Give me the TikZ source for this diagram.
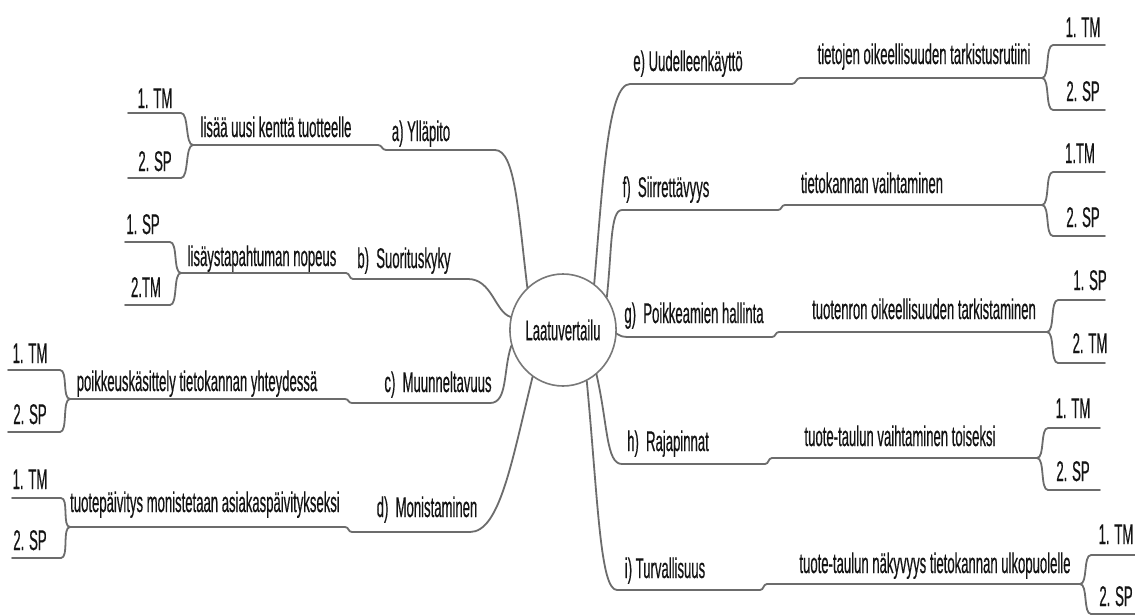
\documentclass[tikz,border=0pt]{standalone}
\usepackage{fontspec}
\setmainfont{Liberation Sans}[FakeStretch=0.46,FakeBold=0.4]
\usetikzlibrary{shapes.geometric}
\definecolor{linec}{RGB}{108,108,108}
\definecolor{hubc}{RGB}{120,120,120}
\definecolor{txtc}{RGB}{20,20,20}
\newcommand\mmfont{\fontsize{28.5}{30}\selectfont}

\begin{document}
\begin{tikzpicture}[x=1pt,y=-1pt,
  conn/.style={draw=linec, line width=1.8pt, line cap=round, line join=round},
  lbl/.style={font=\mmfont, text=txtc, inner sep=0pt, anchor=base},
  hub/.style={ellipse, draw=hubc, line width=1.6pt, fill=white,
    minimum width=100pt, minimum height=112pt, inner sep=0pt, font=\mmfont, text=txtc}]
\useasboundingbox (0,0) rectangle (1135,614);
\fill[white] (0,0) rectangle (1135,614);

% central topic
\node[hub] (hub) at (563,330) {Laatuvertailu};

% ---------- left side ----------
% a) Ylläpito
\coordinate (a1) at (495,150); \coordinate (a2) at (386,150);
\coordinate (a3) at (378,145); \coordinate (a4) at (193,145);
\coordinate (a5) at (181,113); \coordinate (a6) at (128,113);
\coordinate (a7) at (181,178); \coordinate (a8) at (128,178);
\draw[conn] (hub.130) .. controls (518,210) and (515,150) .. (a1) -- (a2)
  .. controls +(-4,0) and +(4,0) .. (a3) -- (a4);
\draw[conn] (a6) -- (a5) .. controls +(8,0) and +(-8,0) .. (a4)
  .. controls +(-8,0) and +(8,0) .. (a7) -- (a8);
\node[lbl] (a-l1) at (155,108) {1. TM};
\node[lbl] (a-l2) at (155,171) {2. SP};
\node[lbl] (a-sub) at (276,137) {lisää uusi kenttä tuotteelle};
\node[lbl] (a-main) at (421,141) {a) Ylläpito};

% b) Suorituskyky
\coordinate (b1) at (468,279); \coordinate (b2) at (353,279);
\coordinate (b3) at (346,273); \coordinate (b4) at (181,273);
\coordinate (b5) at (170,242); \coordinate (b6) at (125,242);
\coordinate (b7) at (170,305); \coordinate (b8) at (125,305);
\draw[conn] (hub.166) .. controls (495,312) and (492,279) .. (b1) -- (b2)
  .. controls +(-4,0) and +(4,0) .. (b3) -- (b4);
\draw[conn] (b6) -- (b5) .. controls +(8,0) and +(-8,0) .. (b4)
  .. controls +(-8,0) and +(8,0) .. (b7) -- (b8);
\node[lbl] (b-l1) at (143,234) {1. SP};
\node[lbl] (b-l2) at (146,297) {2.TM};
\node[lbl] (b-sub) at (262,266) {lisäystapahtuman nopeus};
\node[lbl] (b-main) at (404,268) {b)\ \ Suorituskyky};

% c) Muunneltavuus
\coordinate (c1) at (490,403); \coordinate (c2) at (352,403);
\coordinate (c3) at (345,399); \coordinate (c4) at (70,399);
\coordinate (c5) at (60,370); \coordinate (c6) at (8,370);
\coordinate (c7) at (60,432); \coordinate (c8) at (8,432);
\draw[conn] (hub.197) .. controls (503,370) and (508,403) .. (c1) -- (c2)
  .. controls +(-4,0) and +(4,0) .. (c3) -- (c4);
\draw[conn] (c6) -- (c5) .. controls +(8,0) and +(-8,0) .. (c4)
  .. controls +(-8,0) and +(8,0) .. (c7) -- (c8);
\node[lbl] (c-l1) at (30,363) {1. TM};
\node[lbl] (c-l2) at (30,424) {2. SP};
\node[lbl] (c-sub) at (197,391) {poikkeuskäsittely tietokannan yhteydessä};
\node[lbl] (c-main) at (438,392) {c)\ \ Muunneltavuus};

% d) Monistaminen
\coordinate (d1) at (470,532); \coordinate (d2) at (352,532);
\coordinate (d3) at (345,527); \coordinate (d4) at (70,527);
\coordinate (d5) at (61,498); \coordinate (d6) at (12,498);
\coordinate (d7) at (61,558); \coordinate (d8) at (12,558);
\draw[conn] (hub.237) .. controls (512,460) and (500,532) .. (d1) -- (d2)
  .. controls +(-4,0) and +(4,0) .. (d3) -- (d4);
\draw[conn] (d6) -- (d5) .. controls +(8,0) and +(-8,0) .. (d4)
  .. controls +(-8,0) and +(8,0) .. (d7) -- (d8);
\node[lbl] (d-l1) at (30,489) {1. TM};
\node[lbl] (d-l2) at (30,550) {2. SP};
\node[lbl] (d-sub) at (205,512) {tuotepäivitys monistetaan asiakaspäivitykseksi};
\node[lbl] (d-main) at (427,517) {d)\ \ Monistaminen};

% ---------- right side ----------
% e) Uudelleenkäyttö
\coordinate (e1) at (630,84); \coordinate (e2) at (792,84);
\coordinate (e3) at (800,78); \coordinate (e4) at (1042,78);
\coordinate (e5) at (1053,45); \coordinate (e6) at (1105,45);
\coordinate (e7) at (1053,110); \coordinate (e8) at (1105,110);
\draw[conn] (hub.56) .. controls (603,180) and (608,84) .. (e1) -- (e2)
  .. controls +(4,0) and +(-4,0) .. (e3) -- (e4);
\draw[conn] (e6) -- (e5) .. controls +(-8,0) and +(8,0) .. (e4)
  .. controls +(8,0) and +(-8,0) .. (e7) -- (e8);
\node[lbl] (e-main) at (688,71) {e) Uudelleenkäyttö};
\node[lbl] (e-sub) at (924,64) {tietojen oikeellisuuden tarkistusrutiini};
\node[lbl] (e-l1) at (1083,37) {1. TM};
\node[lbl] (e-l2) at (1083,101) {2. SP};

% f) Siirrettävyys
\coordinate (f1) at (622,210); \coordinate (f2) at (778,210);
\coordinate (f3) at (785,205); \coordinate (f4) at (1042,205);
\coordinate (f5) at (1053,172); \coordinate (f6) at (1105,172);
\coordinate (f7) at (1053,236); \coordinate (f8) at (1105,236);
\draw[conn] (hub.37) .. controls (612,250) and (610,210) .. (f1) -- (f2)
  .. controls +(4,0) and +(-4,0) .. (f3) -- (f4);
\draw[conn] (f6) -- (f5) .. controls +(-8,0) and +(8,0) .. (f4)
  .. controls +(8,0) and +(-8,0) .. (f7) -- (f8);
\node[lbl] (f-main) at (666,197) {f)\ \ Siirrettävyys};
\node[lbl] (f-sub) at (872,193) {tietokannan vaihtaminen};
\node[lbl] (f-l1) at (1080,163) {1.TM};
\node[lbl] (f-l2) at (1083,227) {2. SP};

% g) Poikkeamien hallinta
\coordinate (g1) at (630,337); \coordinate (g2) at (772,337);
\coordinate (g3) at (779,332); \coordinate (g4) at (1047,332);
\coordinate (g5) at (1058,300); \coordinate (g6) at (1105,300);
\coordinate (g7) at (1058,363); \coordinate (g8) at (1105,363);
\draw[conn] (hub.356) .. controls (620,336) and (622,337) .. (g1) -- (g2)
  .. controls +(4,0) and +(-4,0) .. (g3) -- (g4);
\draw[conn] (g6) -- (g5) .. controls +(-8,0) and +(8,0) .. (g4)
  .. controls +(8,0) and +(-8,0) .. (g7) -- (g8);
\node[lbl] (g-main) at (694,323) {g)\ \ Poikkeamien hallinta};
\node[lbl] (g-sub) at (924,319) {tuotenron oikeellisuuden tarkistaminen};
\node[lbl] (g-l1) at (1090,290) {1. SP};
\node[lbl] (g-l2) at (1090,353) {2. TM};

% h) Rajapinnat
\coordinate (h1) at (622,464); \coordinate (h2) at (765,464);
\coordinate (h3) at (772,458); \coordinate (h4) at (1037,458);
\coordinate (h5) at (1048,428); \coordinate (h6) at (1100,428);
\coordinate (h7) at (1048,490); \coordinate (h8) at (1100,490);
\draw[conn] (hub.307) .. controls (608,425) and (606,464) .. (h1) -- (h2)
  .. controls +(4,0) and +(-4,0) .. (h3) -- (h4);
\draw[conn] (h6) -- (h5) .. controls +(-8,0) and +(8,0) .. (h4)
  .. controls +(8,0) and +(-8,0) .. (h7) -- (h8);
\node[lbl] (h-main) at (668,451) {h)\ \ Rajapinnat};
\node[lbl] (h-sub) at (900,446) {tuote-taulun vaihtaminen toiseksi};
\node[lbl] (h-l1) at (1073,418) {1. TM};
\node[lbl] (h-l2) at (1073,481) {2. SP};

% i) Turvallisuus
\coordinate (i1) at (617,590); \coordinate (i2) at (760,590);
\coordinate (i3) at (767,584); \coordinate (i4) at (1080,584);
\coordinate (i5) at (1091,555); \coordinate (i6) at (1135,555);
\coordinate (i7) at (1091,614); \coordinate (i8) at (1135,614);
\draw[conn] (hub.295) .. controls (598,500) and (600,590) .. (i1) -- (i2)
  .. controls +(4,0) and +(-4,0) .. (i3) -- (i4);
\draw[conn] (i6) -- (i5) .. controls +(-8,0) and +(8,0) .. (i4)
  .. controls +(8,0) and +(-8,0) .. (i7) -- (i8);
\node[lbl] (i-main) at (665,578) {i) Turvallisuus};
\node[lbl] (i-sub) at (935,573) {tuote-taulun näkyvyys tietokannan ulkopuolelle};
\node[lbl] (i-l1) at (1116,544) {1. TM};
\node[lbl] (i-l2) at (1116,606) {2. SP};
\end{tikzpicture}
\end{document}
